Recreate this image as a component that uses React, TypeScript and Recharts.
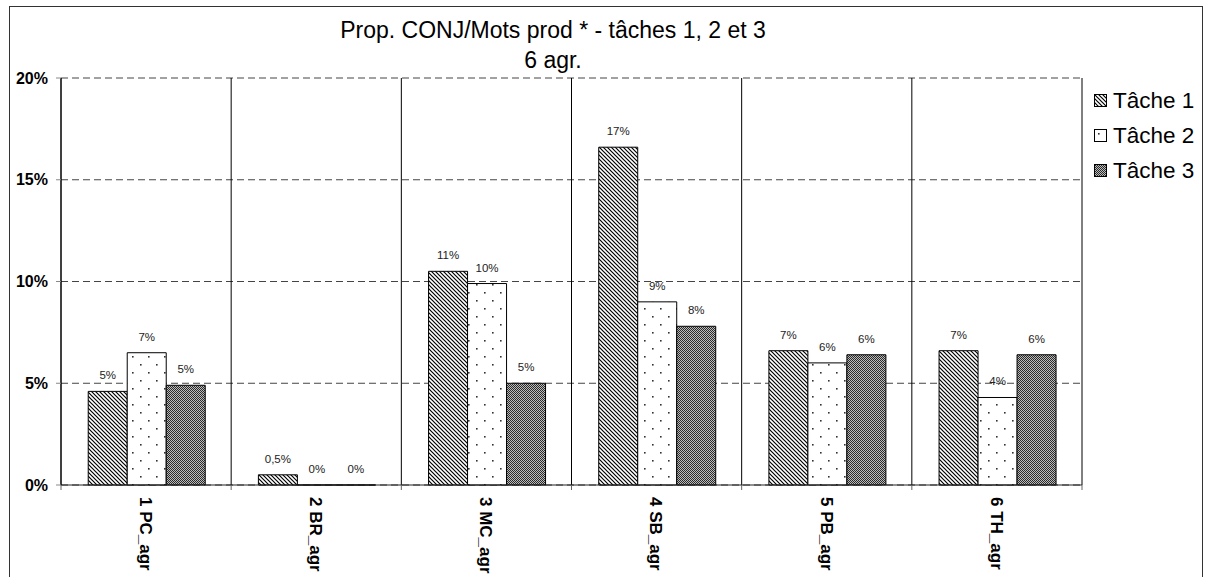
import React from 'react';
import {
  BarChart,
  Bar,
  XAxis,
  YAxis,
  CartesianGrid,
  LabelList,
} from 'recharts';

const categories = ['1 PC_agr', '2 BR_agr', '3 MC_agr', '4 SB_agr', '5 PB_agr', '6 TH_agr'];
const tache1 = [4.6, 0.5, 10.5, 16.6, 6.6, 6.6];
const tache2 = [6.5, 0, 9.9, 9.0, 6.0, 4.3];
const tache3 = [4.9, 0, 5.0, 7.8, 6.4, 6.4];
const yTicks = [0, 5, 10, 15, 20];
const seriesNames = ['Tâche 1', 'Tâche 2', 'Tâche 3'];

const data = categories.map((name, i) => ({
  name,
  t1: tache1[i],
  t2: tache2[i],
  t3: tache3[i],
}));

const W = 1205;
const H = 577;
const M = { top: 78, right: 123, bottom: 0, left: 0 };
const X_H = 92;
const Y_W = 61;
const FONT = "Arial, 'Liberation Sans', sans-serif";
const BAND = (W - M.right - Y_W) / categories.length;

const fmtLabel = (v: number) => {
  if (v > 0 && v < 1) return `${v.toFixed(1).replace('.', ',')}%`;
  return `${Math.round(v)}%`;
};

const XTick = (props: any) => {
  const { x, y, payload, index } = props;
  const base = y - 8;
  return (
    <g>
      <line x1={x - BAND / 2} x2={x - BAND / 2} y1={base} y2={base + 5} stroke="#666" />
      {index === categories.length - 1 && (
        <line x1={x + BAND / 2} x2={x + BAND / 2} y1={base} y2={base + 5} stroke="#666" />
      )}
      <g transform={`translate(${x},${base + 12}) rotate(90)`}>
        <text x={0} y={0} dy="0.36em" textAnchor="start" fontFamily={FONT} fontSize={17} fontWeight="bold" fill="#000">
          {payload.value}
        </text>
      </g>
    </g>
  );
};

const fills = ['url(#pat1)', 'url(#pat2)', 'url(#pat3)'];

const LegendBox = () => (
  <div
    style={{
      position: 'absolute',
      left: 1094,
      top: 83,
      fontFamily: FONT,
      fontSize: 22.5,
      color: '#000',
    }}
  >
    {seriesNames.map((n, i) => (
      <div key={n} style={{ display: 'flex', alignItems: 'center', height: 35, whiteSpace: 'nowrap' }}>
        <svg width={14} height={14} style={{ marginRight: 5 }}>
          <rect x={0.5} y={0.5} width={12} height={12} fill={fills[i]} stroke="#000" />
        </svg>
        <span>{n}</span>
      </div>
    ))}
  </div>
);

export default function App() {
  return (
    <div style={{ position: 'absolute', left: 0, top: 0, width: W, height: H, overflow: 'hidden', background: '#fff' }}>
      <div
        style={{
          position: 'absolute',
          left: 9,
          top: 6,
          width: 1194,
          height: 620,
          border: '1px solid #333',
          boxSizing: 'border-box',
        }}
      />
      <div
        style={{
          position: 'absolute',
          left: 553,
          top: 15,
          transform: 'translateX(-50%)',
          whiteSpace: 'nowrap',
          textAlign: 'center',
          fontFamily: FONT,
          fontSize: 23,
          lineHeight: '30px',
          color: '#000',
        }}
      >
        <div>Prop. CONJ/Mots prod * - tâches 1, 2 et 3</div>
        <div>6 agr.</div>
      </div>
      <BarChart
        width={W}
        height={H}
        data={data}
        margin={M}
        barCategoryGap="16%"
        barGap={0}
        style={{ position: 'absolute', left: 0, top: 0 }}
      >
        <defs>
          <pattern id="pat1" patternUnits="userSpaceOnUse" width={4} height={4}>
            <rect width={4} height={4} fill="#fff" />
            <path d="M0,0 L4,4 M-1,3 L1,5 M3,-1 L5,1" stroke="#000" strokeWidth={1.2} />
          </pattern>
          <pattern id="pat2" patternUnits="userSpaceOnUse" width={16} height={16}>
            <rect width={16} height={16} fill="#fff" />
            <rect x={4} y={4} width={1.6} height={1.6} fill="#333" />
            <rect x={12} y={12} width={1.6} height={1.6} fill="#333" />
          </pattern>
          <pattern id="pat3" patternUnits="userSpaceOnUse" width={2} height={2}>
            <rect width={2} height={2} fill="#bbb" />
            <rect x={0} y={0} width={1} height={1} fill="#2a2a2a" />
            <rect x={1} y={1} width={1} height={1} fill="#2a2a2a" />
          </pattern>
        </defs>
        <CartesianGrid vertical={false} stroke="#444" strokeDasharray="7 4" />
        <CartesianGrid
          horizontal={false}
          stroke="#000"
          verticalCoordinatesGenerator={({ offset }: any) =>
            categories.map((_, i) => offset.left + (i * offset.width) / categories.length).concat(offset.left + offset.width)
          }
        />
        <XAxis
          dataKey="name"
          height={X_H}
          tickLine={false}
          axisLine={{ stroke: '#222' }}
          tick={<XTick />}
          interval={0}
        />
        <YAxis
          width={Y_W}
          domain={[0, 20]}
          ticks={yTicks}
          tickFormatter={(v: number) => `${v}%`}
          tick={{ fontFamily: FONT, fontSize: 16, fontWeight: 'bold', fill: '#000' }}
          tickSize={5}
          tickMargin={8}
          tickLine={{ stroke: '#888' }}
          axisLine={{ stroke: '#000' }}
        />
        {['t1', 't2', 't3'].map((k, i) => (
          <Bar
            key={k}
            dataKey={k}
            name={seriesNames[i]}
            fill={fills[i]}
            stroke="#000"
            strokeWidth={1}
            minPointSize={(v: number) => (v === 0 ? 0.01 : 0)}
            isAnimationActive={false}
          >
            <LabelList
              dataKey={k}
              position="top"
              offset={12}
              fill="#222"
              formatter={(v: any) => fmtLabel(Number(v))}
              style={{ fontFamily: FONT, fontSize: 11.5, fill: '#222' }}
            />
          </Bar>
        ))}
      </BarChart>
      <LegendBox />
    </div>
  );
}
